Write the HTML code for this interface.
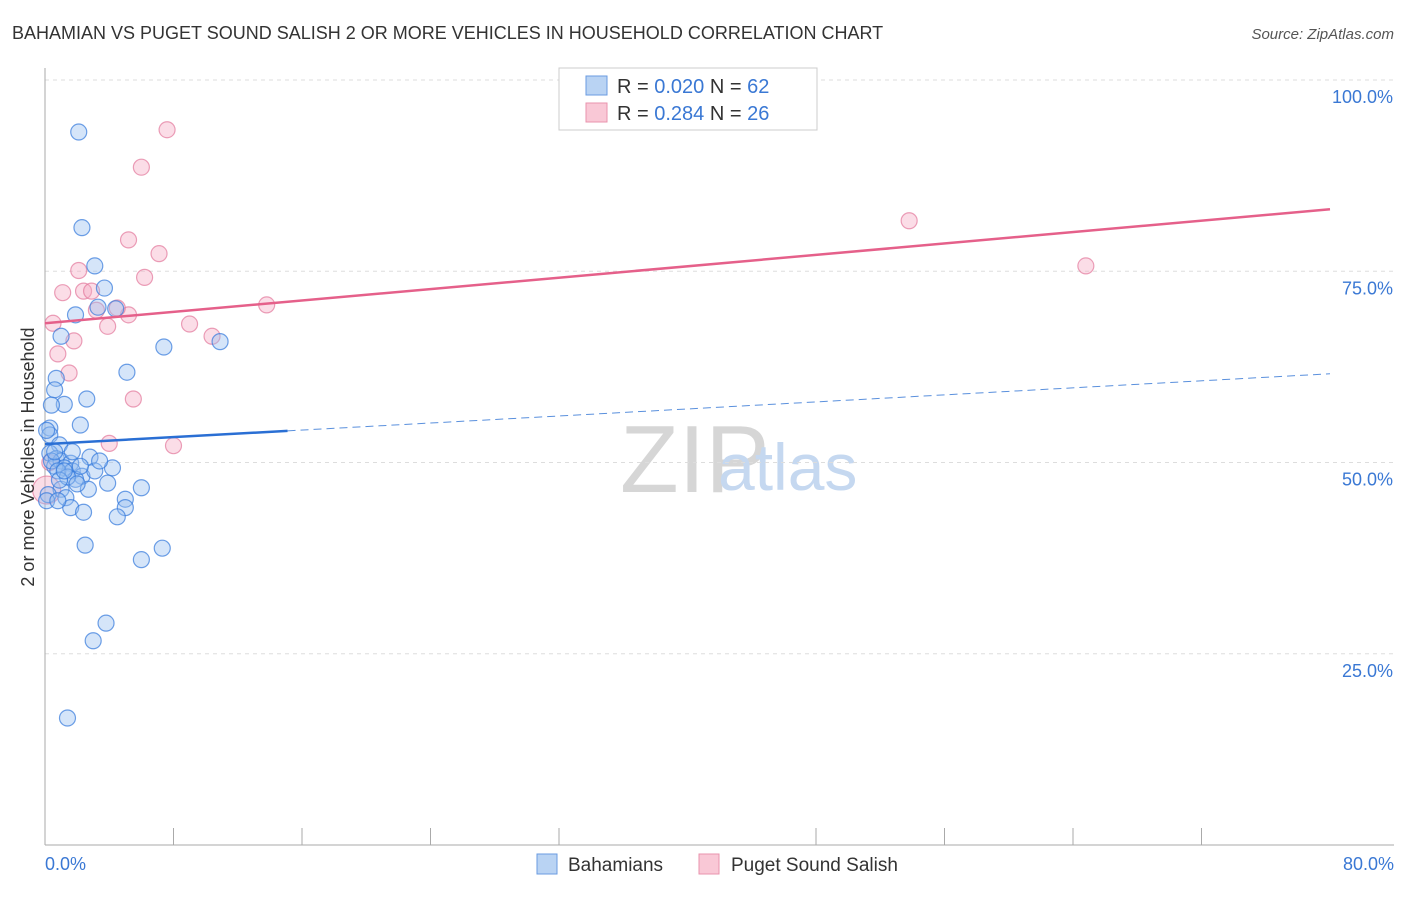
<!DOCTYPE html>
<html><head><meta charset="utf-8"><style>
body{margin:0;background:#fff;font-family:"Liberation Sans",sans-serif}
svg text{font-family:"Liberation Sans",sans-serif}
</style></head><body>
<svg id="chart" width="1406" height="892">
<text x="12" y="39" font-size="18" fill="#333">BAHAMIAN VS PUGET SOUND SALISH 2 OR MORE VEHICLES IN HOUSEHOLD CORRELATION CHART</text>
<text x="1394" y="39" font-size="15" fill="#555" font-style="italic" text-anchor="end">Source: ZipAtlas.com</text>
<text x="620" y="492" font-size="96" fill="#d6d6d6" font-family="Liberation Serif">ZIP</text>
<text x="718" y="490" font-size="66" fill="#c5d8f0">atlas</text>
<g id="grid"></g><g id="axes"></g><g id="marks"></g>
<text transform="translate(34,457) rotate(-90)" font-size="18" fill="#333" text-anchor="middle">2 or more Vehicles in Household</text>
<text x="45" y="870" font-size="18" fill="#3a78d4">0.0%</text>
<text x="1394" y="870" font-size="18" fill="#3a78d4" text-anchor="end">80.0%</text>
<g>
<rect x="559" y="68" width="258" height="62" fill="#fff" stroke="#ccc"/>
<rect x="586" y="76" width="21" height="19" fill="#b9d3f3" stroke="#6a9be0"/>
<rect x="586" y="103" width="21" height="19" fill="#f9c8d6" stroke="#e993ad"/>
<text x="617" y="93" font-size="20" fill="#333">R = <tspan fill="#3a78d4">0.020</tspan>   N = <tspan fill="#3a78d4">62</tspan></text>
<text x="617" y="120" font-size="20" fill="#333">R =  <tspan fill="#3a78d4">0.284</tspan>   N = <tspan fill="#3a78d4">26</tspan></text>
</g>
<g>
<rect x="537" y="854" width="20" height="20" fill="#b9d3f3" stroke="#6a9be0"/>
<text x="568" y="871" font-size="19" fill="#333">Bahamians</text>
<rect x="699" y="854" width="20" height="20" fill="#f9c8d6" stroke="#e993ad"/>
<text x="731" y="871" font-size="19" fill="#333">Puget Sound Salish</text>
</g>
</svg>
<script>
const yTicks=[25,50,75,100];
const yTickLabels=["25.0%","50.0%","75.0%","100.0%"];
const blueX=[2.1,2.3,3.1,3.7,3.3,4.4,1.9,1.0,7.4,10.9,5.1,0.7,0.6,1.2,0.4,2.6,2.2,0.3,0.3,0.9,2.8,0.3,0.7,1.0,1.6,0.6,1.2,1.7,4.2,2.3,1.9,3.9,1.0,2.7,6.0,1.3,5.0,1.6,5.0,2.4,4.5,2.5,7.3,6.0,3.8,3.0,1.4,0.2,0.4,0.8,1.4,2.0,0.1,0.1,0.9,1.7,3.1,3.4,0.6,1.2,2.2,0.8];
const blueY=[93.2,80.7,75.7,72.8,70.3,70.1,69.3,66.5,65.1,65.8,61.8,61.0,59.5,57.6,57.5,58.3,54.9,54.5,53.6,52.3,50.7,51.2,50.5,50.2,49.9,49.5,49.3,48.9,49.3,48.2,47.8,47.3,46.5,46.5,46.7,45.4,45.2,44.1,44.1,43.5,42.9,39.2,38.8,37.3,29.0,26.7,16.6,45.8,50.2,48.9,48.1,47.2,54.2,45.0,47.7,51.4,48.9,50.2,51.4,48.9,49.5,45.0];
const pinkX=[7.6,6.0,5.2,7.1,2.1,6.2,1.1,2.4,2.9,3.2,5.2,4.5,9.0,3.9,10.4,1.8,0.8,0.5,13.8,1.5,5.5,4.0,8.0,53.8,64.8,0.3,0.1];
const pinkY=[93.5,88.6,79.1,77.3,75.1,74.2,72.2,72.4,72.4,69.9,69.3,70.2,68.1,67.8,66.5,65.9,64.2,68.2,70.6,61.7,58.3,52.5,52.2,81.6,75.7,50.0,46.4];
const blueTrend=[0.020,52.4,61.6,15.1];
const pinkTrend=[68.2,83.1];
const X=v=>45+v/80*1285, Y=v=>845-v/100*765;
const NS="http://www.w3.org/2000/svg";
function mk(tag,parent,attrs){const e=document.createElementNS(NS,tag);for(const k in attrs)e.setAttribute(k,attrs[k]);document.getElementById(parent).appendChild(e);return e;}
yTicks.forEach((t,i)=>{
 const l=mk('line','grid',{x1:45,x2:1394,y1:Y(t),y2:Y(t),stroke:'#ddd','stroke-dasharray':'4,4'});
 
 
 const tx=mk('text','grid',{x:1393,y:Y(t)+23,'font-size':18,fill:'#3a78d4','text-anchor':'end'});
 tx.textContent=yTickLabels[i];
 
 
});
let a=mk('line','axes',{x1:45,x2:45,y1:68,y2:845,stroke:'#aaa'});


a=mk('line','axes',{x1:45,x2:1394,y1:845,y2:845,stroke:'#aaa'});


for(let i=0;i<=10;i++){const t=mk('line','axes',{x1:X(i*8),x2:X(i*8),y1:845,y2:i%5==0?845:828,stroke:'#aaa'});
 
 }
pinkX.forEach((v,i)=>{const c=mk('circle','marks',{cx:X(v),cy:Y(pinkY[i]),r:i==26?14:8,fill:'rgba(244,170,194,0.4)',stroke:'rgba(226,120,155,0.7)','stroke-width':1.2});
 
 });
blueX.forEach((v,i)=>{const c=mk('circle','marks',{cx:X(v),cy:Y(blueY[i]),r:8,fill:'rgba(150,190,240,0.4)',stroke:'rgba(50,120,220,0.7)','stroke-width':1.2});
 
 });
let tl=mk('line','marks',{x1:X(0),y1:Y(pinkTrend[0]),x2:X(80),y2:Y(pinkTrend[1]),stroke:'#e5608a','stroke-width':2.5});


tl=mk('line','marks',{x1:X(0),y1:Y(blueTrend[1]),x2:X(blueTrend[3]),y2:Y(blueTrend[1]+(blueTrend[2]-blueTrend[1])*blueTrend[3]/80),stroke:'#2a6fd4','stroke-width':2.5});


tl=mk('line','marks',{x1:X(blueTrend[3]),y1:Y(blueTrend[1]+(blueTrend[2]-blueTrend[1])*blueTrend[3]/80),x2:X(80),y2:Y(blueTrend[2]),stroke:'#5a90dd','stroke-width':1,'stroke-dasharray':'8,5'});


</script>
</body></html>
